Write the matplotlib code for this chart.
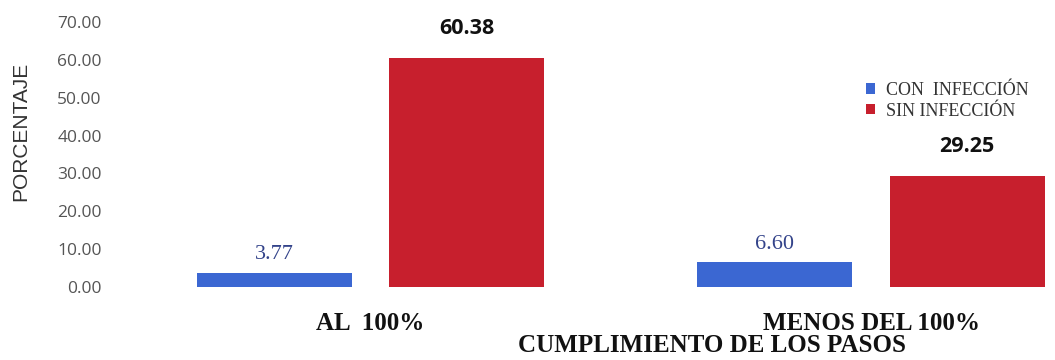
import matplotlib
matplotlib.use("Agg")
import matplotlib.pyplot as plt
import numpy as np

# cumplimiento de los pasos vs. infeccion (porcentaje)
CATEGORIES = ["AL  100%", "MENOS DEL 100%"]
CON_INFECCION = [3.77, 6.60]
SIN_INFECCION = [60.38, 29.25]
YTICKS = [0, 10, 20, 30, 40, 50, 60, 70]

BLUE = "#3b67d2"
RED = "#c71f2d"

fig = plt.figure(figsize=(10.55, 3.6), dpi=100)
ax = fig.add_axes([110 / 1055, 73 / 360, 945 / 1055, 265 / 360])

x = np.arange(len(CATEGORIES))
w = 0.31
off = 0.192
b1 = ax.bar(x - off, CON_INFECCION, w, color=BLUE, label="CON  INFECCIÓN")
b2 = ax.bar(x + off, SIN_INFECCION, w, color=RED, label="SIN INFECCIÓN")

for rect, v in zip(b1, CON_INFECCION):
    ax.annotate(f"{v:.2f}", (rect.get_x() + rect.get_width() / 2, v),
                xytext=(0, 6), textcoords="offset points", ha="center", va="bottom",
                fontsize=16, family="Liberation Serif", color="#33438a")
for rect, v in zip(b2, SIN_INFECCION):
    ax.annotate(f"{v:.2f}", (rect.get_x() + rect.get_width() / 2, v),
                xytext=(0, 14), textcoords="offset points", ha="center", va="bottom",
                fontsize=15.5, family="Open Sans", fontweight="bold", color="#111111")

ax.set_ylim(0, 70)
ax.set_xlim(-0.5205, 1.3676)
ax.set_yticks(YTICKS)
ax.set_yticklabels([f"{t:.2f}" for t in YTICKS], fontsize=12.5, family="Open Sans", color="#555555")
ax.set_xticks(x)
ax.set_xticklabels(CATEGORIES, fontsize=18, family="Liberation Serif", fontweight="bold", color="#111111")
ax.tick_params(axis="y", length=0, pad=6)
ax.tick_params(axis="x", length=0, pad=18)
for s in ax.spines.values():
    s.set_visible(False)

fig.text(21 / 1055, 1 - 131 / 360, "PORCENTAJE", rotation=90, ha="center", va="center",
         fontsize=15, family="Liberation Sans", color="#333333")
fig.text(712 / 1055, 1 - 345 / 360, "CUMPLIMIENTO DE LOS PASOS", ha="center", va="center",
         fontsize=18, family="Liberation Serif", fontweight="bold", color="#111111")

fig.legend(loc="upper left", bbox_to_anchor=(866 / 1055, 1 - 82 / 360),
           frameon=False, prop={"family": "Liberation Serif", "size": 13},
           handlelength=0.5, handleheight=0.5, handletextpad=0.6, labelspacing=0.2,
           labelcolor="#333333", borderaxespad=0, borderpad=0)

fig.savefig("out.png", dpi=100)
